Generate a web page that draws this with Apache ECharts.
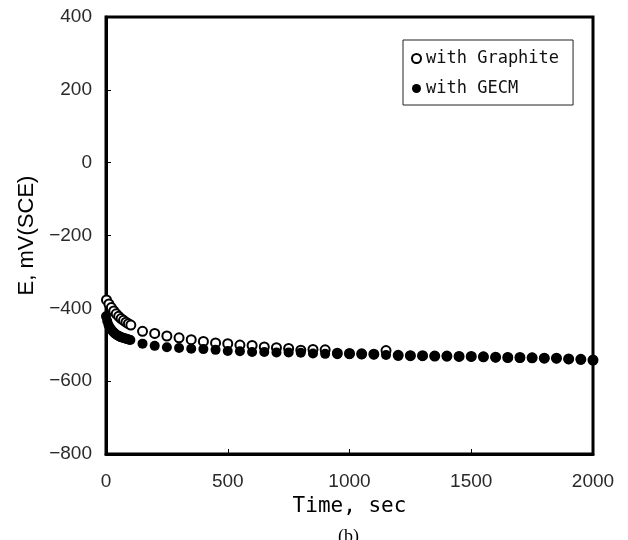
<!DOCTYPE html>
<html>
<head>
<meta charset="utf-8">
<script src="https://cdn.jsdelivr.net/npm/echarts@6/dist/echarts.min.js"></script>
<style>html,body{margin:0;padding:0;background:#fff;}#c{width:628px;height:540px;}</style>
</head>
<body>
<div id="c"></div>
<script>
const graphiteTime = [2, 12, 22, 32, 42, 52, 62, 72, 82, 92, 102,
  150, 200, 250, 300, 350, 400, 450, 500, 550, 600, 650, 700, 750, 800, 850, 900, 950, 1000,
  1050, 1100, 1150, 1200, 1250, 1300, 1350, 1400, 1450, 1500, 1550, 1600, 1650, 1700, 1750,
  1800, 1850, 1900, 1950, 2000];
const graphiteE = [-377, -388, -398, -407, -415, -422, -428, -433, -438, -442, -446,
  -463, -469, -476, -481, -486, -491, -495, -497, -501, -502, -506, -508, -510, -515, -513, -514, -523, -524,
  -525, -526, -516, -529, -530, -530, -531, -531, -532, -532, -533, -534, -535, -535, -536,
  -537, -537, -539, -540, -542];

const gecmTime = [0, 5, 10, 15, 20, 25, 30, 35, 40, 45, 50, 55, 60, 65, 70, 75, 80, 85, 90, 95, 100,
  150, 200, 250, 300, 350, 400, 450, 500, 550, 600, 650, 700, 750, 800, 850, 900, 950, 1000,
  1050, 1100, 1150, 1200, 1250, 1300, 1350, 1400, 1450, 1500, 1550, 1600, 1650, 1700, 1750,
  1800, 1850, 1900, 1950, 2000];
const gecmE = [-422, -435, -445, -452, -457, -461, -465, -468, -471, -473, -475, -477, -479, -480, -481, -482, -483, -484, -485, -486, -487,
  -497, -503, -507, -509, -511, -512, -514, -517, -518, -520, -520, -521, -521, -522, -524, -525, -526, -526,
  -527, -527, -528, -530, -530, -531, -531, -532, -532, -533, -533, -535, -535, -536, -536,
  -537, -538, -540, -541, -543];

const xTicks = [0, 500, 1000, 1500, 2000];
const yTicks = [-800, -600, -400, -200, 0, 200, 400];
const seriesNames = ['with Graphite', 'with GECM'];

function pairs(xs, ys) { return xs.map((x, i) => [x, ys[i]]); }

const chart = echarts.init(document.getElementById('c'), null, {renderer: 'canvas'});
chart.setOption({
  animation: false,
  backgroundColor: '#fff',
  grid: {left: 106, right: 35, top: 17, bottom: 86, show: true, borderColor: '#000', borderWidth: 3, backgroundColor: 'transparent'},
  xAxis: {
    type: 'value', min: xTicks[0], max: xTicks[xTicks.length - 1], interval: 500,
    name: 'Time, sec', nameLocation: 'middle', nameGap: 42,
    nameTextStyle: {fontFamily: 'DejaVu Sans Mono', fontSize: 21, color: '#000'},
    axisLine: {show: true, onZero: false, lineStyle: {color: '#000', width: 3}},
    axisTick: {show: true, inside: true, length: 5, lineStyle: {color: '#000', width: 1}},
    axisLabel: {fontFamily: 'Liberation Sans', fontSize: 19, color: '#2a2a2a', margin: 18,
      formatter: v => String(v)},
    splitLine: {show: false}
  },
  yAxis: {
    type: 'value', min: yTicks[0], max: yTicks[yTicks.length - 1], interval: 200,
    name: 'E, mV(SCE)', nameLocation: 'middle', nameGap: 56,
    nameTextStyle: {fontFamily: 'Liberation Sans', fontSize: 22, color: '#000'},
    axisLine: {show: true, onZero: false, lineStyle: {color: '#000', width: 3}},
    axisTick: {show: true, inside: true, length: 5, lineStyle: {color: '#000', width: 1}},
    axisLabel: {fontFamily: 'Liberation Sans', fontSize: 19, color: '#2a2a2a', margin: 14,
      formatter: v => String(v).replace('-', '\u2212')},
    splitLine: {show: false}
  },
  legend: {
    orient: 'vertical', left: 403, top: 40,
    backgroundColor: '#fff', borderColor: '#222', borderWidth: 1,
    padding: [10, 14, 8, 8], itemGap: 13, itemWidth: 9, itemHeight: 9,
    textStyle: {fontFamily: 'DejaVu Sans Mono', fontSize: 17, color: '#111'},
    data: [
      {name: seriesNames[0], icon: 'circle', itemStyle: {color: '#fff', borderColor: '#000', borderWidth: 2}},
      {name: seriesNames[1], icon: 'circle', itemStyle: {color: '#000'}}
    ]
  },
  graphic: [{type: 'text', left: 338, top: 528, style: {text: '(b)', fontFamily: 'Liberation Serif', fontSize: 18, fill: '#000'}}],
  series: [
    {name: seriesNames[0], type: 'scatter', symbol: 'circle', symbolSize: 9,
      itemStyle: {color: '#fff', borderColor: '#000', borderWidth: 2, opacity: 1},
      data: pairs(graphiteTime, graphiteE)},
    {name: seriesNames[1], type: 'scatter', symbol: 'circle', symbolSize: 10,
      itemStyle: {color: '#000', opacity: 1},
      data: pairs(gecmTime, gecmE)}
  ]
});
</script>
</body>
</html>
